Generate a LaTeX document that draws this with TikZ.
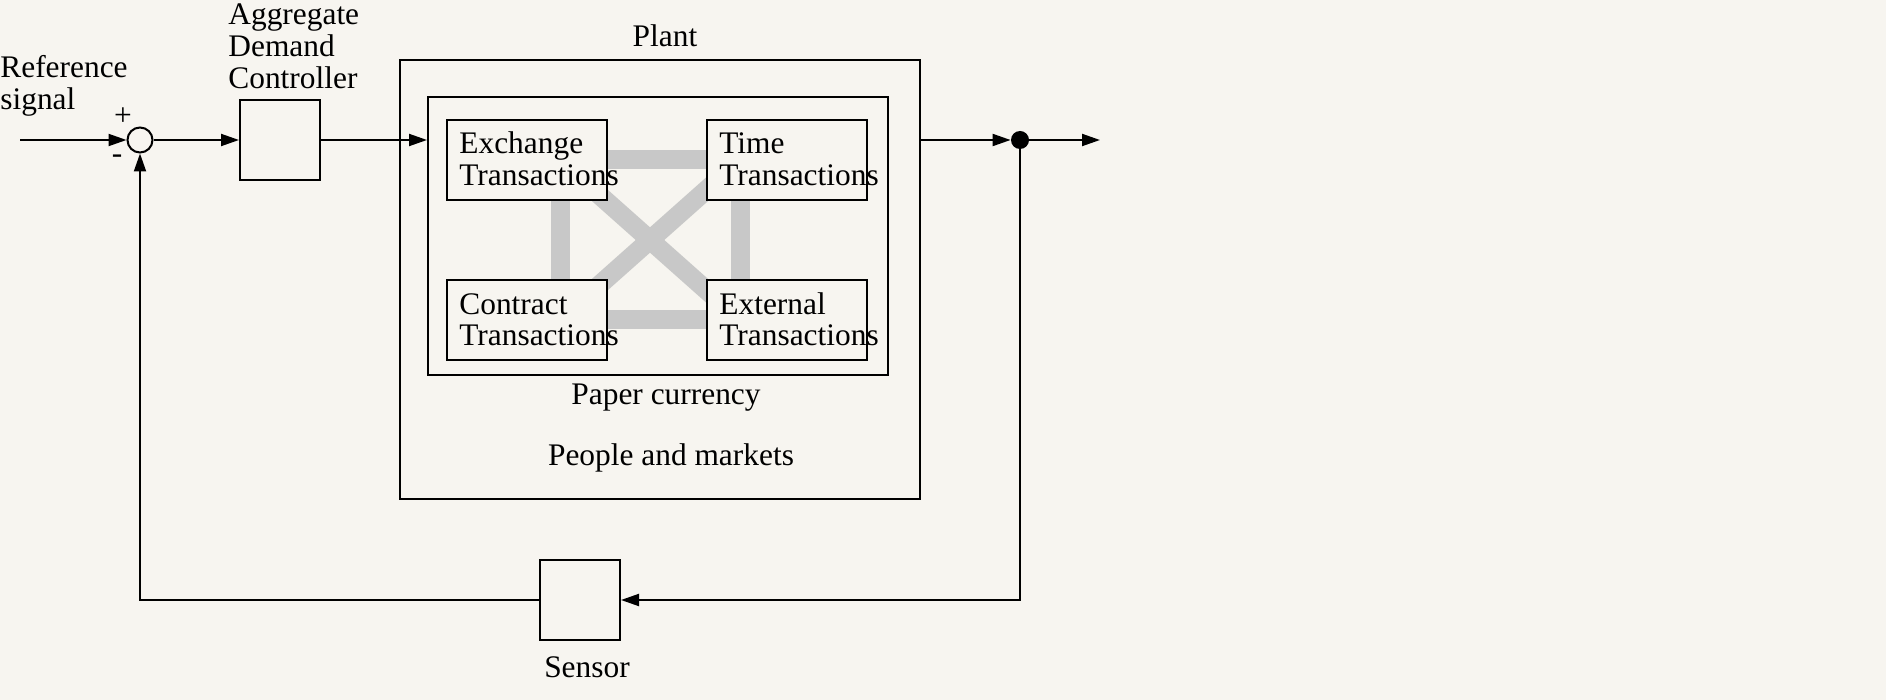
\documentclass[tikz,border=0pt]{standalone}
\usepackage{fontspec}
\setmainfont{Liberation Serif}
\usepackage{xcolor}
\usetikzlibrary{positioning, arrows.meta, backgrounds}
\definecolor{paperbg}{RGB}{247,245,240}
\definecolor{linkgray}{RGB}{200,200,200}

\begin{document}
\begin{tikzpicture}[
    x=0.5pt, y=-0.5pt,
    font=\fontsize{15.7}{16}\selectfont,
    block/.style={rectangle, draw, line width=1pt, fill=paperbg, minimum width=40pt, minimum height=40pt, inner sep=0pt},
    frame/.style={rectangle, draw, line width=1pt, inner sep=0pt},
    txbox/.style={block, minimum width=80pt, minimum height=40pt},
    txlabel/.style={align=left, inner sep=0pt, anchor=base west},
    caption/.style={inner sep=0pt, anchor=base},
    junction/.style={circle, draw, line width=1pt, minimum size=12.5pt, inner sep=0pt},
    tapdot/.style={circle, fill, minimum size=9pt, inner sep=0pt},
    arrow/.style={-{Triangle[length=9pt, width=6pt]}, line width=1pt},
    link/.style={draw=linkgray, line width=9.5pt}
]
\useasboundingbox (0,0) rectangle (1886,700);
\begin{pgfonlayer}{background}
\fill[paperbg] (0,0) rectangle (1886,700);
\end{pgfonlayer}

% Loop blocks
\node[junction] (sum) at (140,140) {};
\node[block] (ctrl) at (280,140) {};
\node[frame, minimum width=260pt, minimum height=219.5pt] (plant) at (660,279.5) {};
\node[frame, minimum width=230pt, minimum height=139pt] (paper) at (658,236) {};
\node[txbox] (exchange) at (527,160) {};
\node[txbox] (time) at (787,160) {};
\node[txbox] (contract) at (527,320) {};
\node[txbox] (external) at (787,320) {};
\node[tapdot] (split) at (1020,140) {};
\node[block] (sensor) at (580,600) {};
\coordinate (input) at (20,140);
\coordinate (output) at (1100,140);

% Labels
\node[txlabel] at (0,109.5) {Reference\\signal};
\node[txlabel] at (228,89) {Aggregate\\Demand\\Controller};
\node[inner sep=0pt] at (123,117) {+};
\node[inner sep=0pt] at (117,159) {-};
\node[caption] at (665,46.5) {Plant};
\node[caption] at (666,405) {Paper currency};
\node[caption] at (671,466) {People and markets};
\node[caption] at (587,677) {Sensor};
\node[txlabel] at ([xshift=6.5pt, yshift=-33.5pt]exchange.north west) {Exchange\\Transactions};
\node[txlabel] at ([xshift=6.5pt, yshift=-33.5pt]time.north west) {Time\\Transactions};
\node[txlabel] at ([xshift=6.5pt, yshift=-33.5pt]contract.north west) {Contract\\Transactions};
\node[txlabel] at ([xshift=6.5pt, yshift=-33.5pt]external.north west) {External\\Transactions};

% Links between transaction types
\begin{pgfonlayer}{background}
\draw[link] (exchange) -- (time);
\draw[link] (contract) -- (external);
\draw[link] ([xshift=16.5pt]exchange.center) -- ([xshift=16.5pt]contract.center);
\draw[link] ([xshift=-23.5pt]time.center) -- ([xshift=-23.5pt]external.center);
\draw[link] ([xshift=16.5pt]exchange.center) -- ([xshift=-23.5pt]external.center);
\draw[link] ([xshift=16.5pt]contract.center) -- ([xshift=-23.5pt]time.center);
\end{pgfonlayer}

% Signal flow
\draw[arrow] (input) -- (sum);
\draw[arrow] (sum) -- (ctrl);
\draw[arrow] (ctrl.east) -- (ctrl.east -| paper.west);
\draw[arrow] (ctrl.east -| plant.east) -- (split);
\draw[arrow] (split) -- (output);
\draw[arrow] (split) |- (sensor);
\draw[arrow] (sensor) -| (sum);

\end{tikzpicture}
\end{document}
